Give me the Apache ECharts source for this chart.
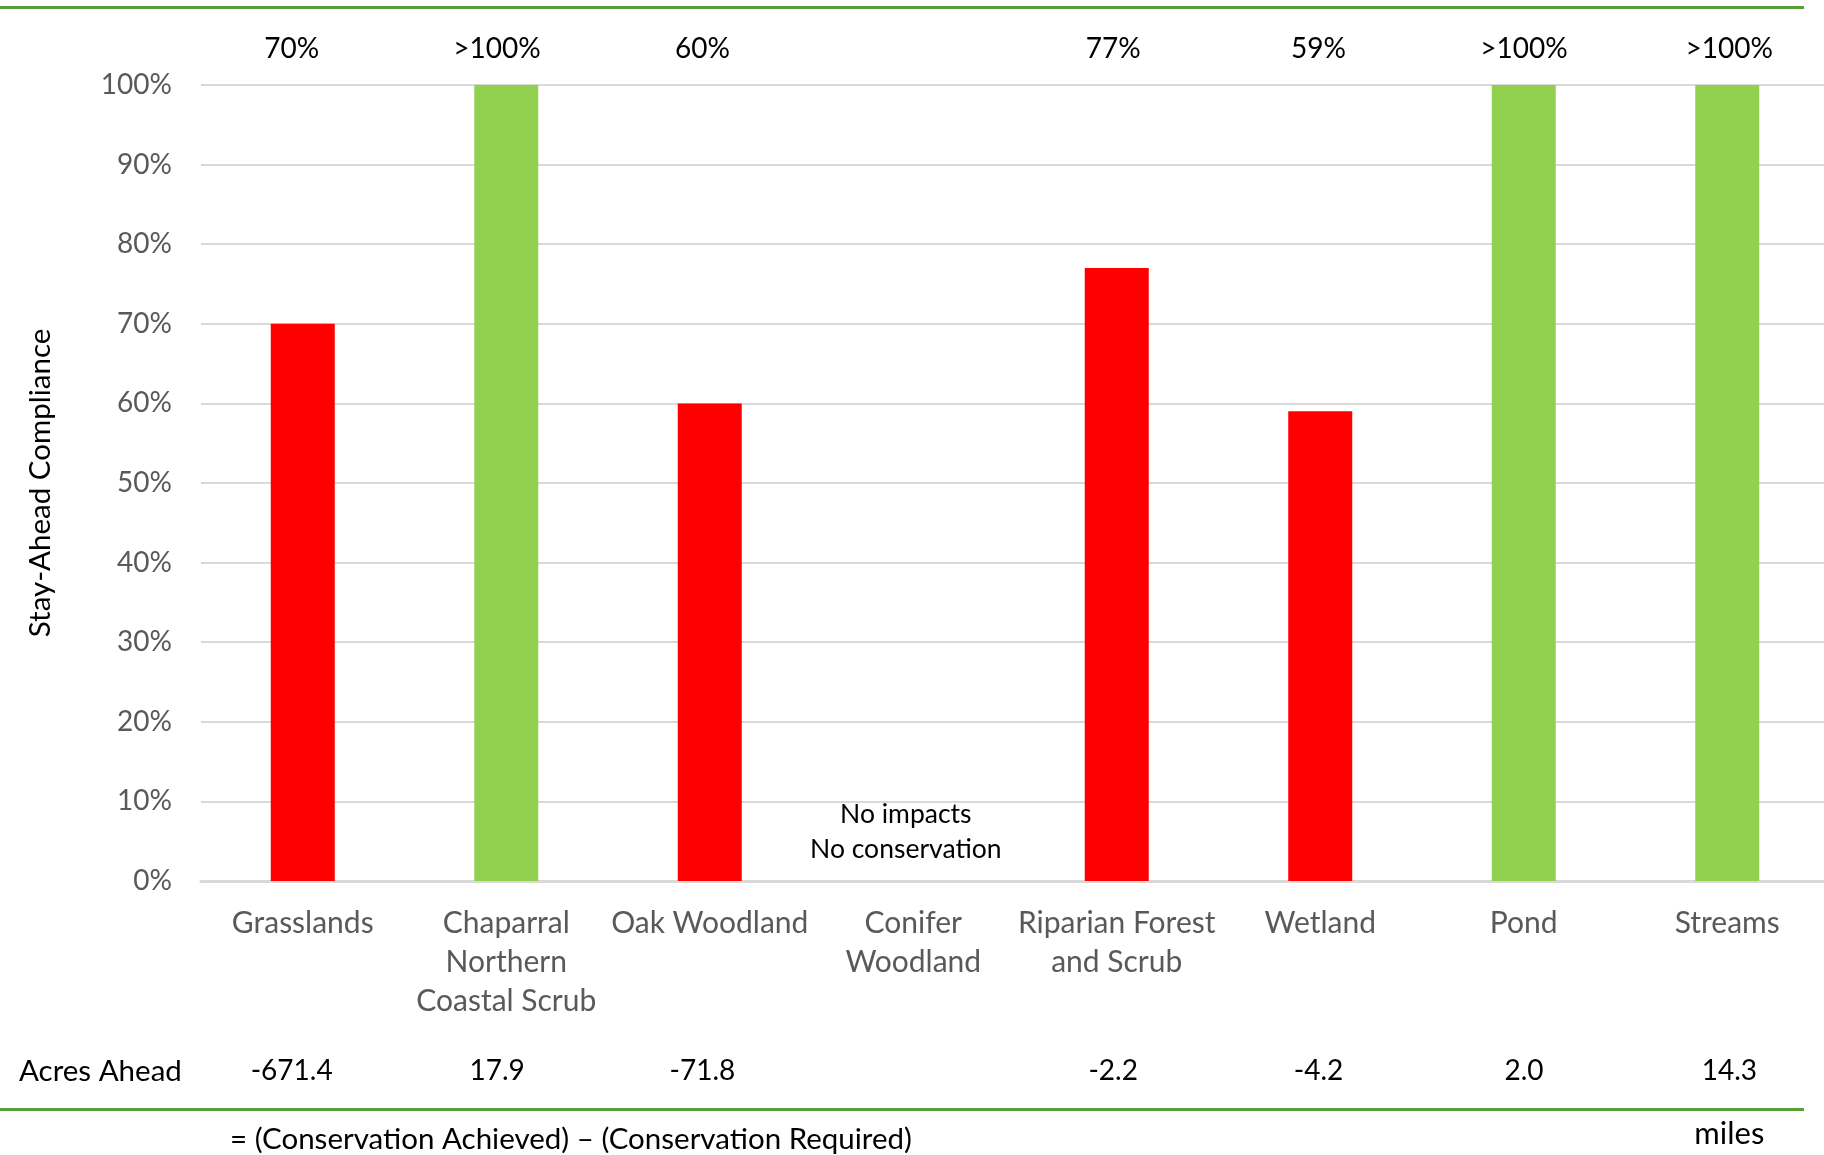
<!DOCTYPE html>
<html>
<head>
<meta charset="utf-8">
<title>Stay-Ahead Compliance</title>
<script src="https://cdn.jsdelivr.net/npm/echarts@6/dist/echarts.min.js"></script>
<style>
  html, body { margin: 0; padding: 0; background: #ffffff; overflow: hidden; }
  /* the plot area runs slightly past the right edge of the page */
  #chart { width: 1840px; height: 1155px; }
</style>
</head>
<body>
<div id="chart"></div>
<script>
// Habitat types
const categories = [
  'Grasslands',
  'Chaparral\nNorthern\nCoastal Scrub',
  'Oak Woodland',
  'Conifer\nWoodland',
  'Riparian Forest\nand Scrub',
  'Wetland',
  'Pond',
  'Streams'
];
// Stay-ahead compliance (%), capped at 100 on the axis; null = no impacts
const compliance = [70, 100, 60, null, 77, 59, 100, 100];
// true where compliance is above 100%
const exceedsTarget = [false, true, false, false, false, false, true, true];
// Acres ahead (miles for Streams)
const acresAhead = [-671.4, 17.9, -71.8, null, -2.2, -4.2, 2.0, 14.3];
// Y axis ticks (%)
const yTicks = { min: 0, max: 100, interval: 10 };

const FONT = 'Lato';
const RED = '#ff0000';
const GREEN = '#92d050';
const RULE = '#56a03a';

const pctText = compliance.map((v, i) =>
  v == null ? '' : (exceedsTarget[i] ? '>100%' : v + '%'));
const acresText = acresAhead.map(v => v == null ? '' : v.toFixed(1));

const chart = echarts.init(document.getElementById('chart'), null, { renderer: 'canvas' });

const option = {
  backgroundColor: '#ffffff',
  animation: false,
  grid: [
    // plot area
    { left: 201, top: 85, width: 1628, height: 796, containLabel: false },
    // table columns (percent row on top, acres row below)
    { left: 189, top: 85, width: 1643, height: 796, containLabel: false }
  ],
  xAxis: [
    {
      type: 'category', gridIndex: 0, data: categories, position: 'bottom',
      axisLine: { show: true, lineStyle: { color: '#d9d9d9', width: 3 } },
      axisTick: { show: false },
      axisLabel: {
        interval: 0, margin: 23, color: '#595959',
        fontFamily: FONT, fontSize: 30, lineHeight: 39
      }
    },
    {
      // compliance labels above the plot
      type: 'category', gridIndex: 1, data: categories, position: 'top',
      axisLine: { show: false }, axisTick: { show: false },
      axisLabel: {
        interval: 0, margin: 21, color: '#000000',
        fontFamily: FONT, fontSize: 28, lineHeight: 30,
        formatter: (v, i) => pctText[i]
      }
    },
    {
      // acres-ahead row under the category names
      type: 'category', gridIndex: 1, data: categories, position: 'bottom', offset: 0,
      axisLine: { show: false }, axisTick: { show: false },
      axisLabel: {
        interval: 0, margin: 174, color: '#000000',
        fontFamily: FONT, fontSize: 28, lineHeight: 32,
        formatter: (v, i) => acresText[i]
      }
    }
  ],
  yAxis: [
    {
      type: 'value', gridIndex: 0,
      min: yTicks.min, max: yTicks.max, interval: yTicks.interval,
      name: 'Stay-Ahead Compliance',
      nameLocation: 'middle', nameRotate: 90, nameGap: 146,
      nameTextStyle: { color: '#000000', fontFamily: FONT, fontSize: 29.5 },
      axisLine: { show: false }, axisTick: { show: false },
      axisLabel: {
        margin: 29, color: '#595959', fontFamily: FONT, fontSize: 28,
        formatter: '{value}%'
      },
      splitLine: { lineStyle: { color: '#d9d9d9', width: 2 } }
    },
    {
      type: 'value', gridIndex: 1, min: 0, max: 100, show: false,
      splitLine: { show: false }
    }
  ],
  series: [
    {
      type: 'bar', xAxisIndex: 0, yAxisIndex: 0,
      barWidth: 64,
      data: compliance.map((v, i) => ({
        value: v,
        itemStyle: { color: exceedsTarget[i] ? GREEN : RED }
      }))
    }
  ]
};

chart.setOption(option);

// Pixel helpers for the free-standing text
const colX = i => chart.convertToPixel({ xAxisIndex: 2 }, categories[i]);
const zeroY = chart.convertToPixel({ yAxisIndex: 0 }, 0);
const conifer = compliance.findIndex(v => v == null);

chart.setOption({
  graphic: [
    // horizontal rules
    { type: 'rect', left: 0, top: 6, shape: { width: 1804, height: 3 },
      style: { fill: RULE }, silent: true },
    { type: 'rect', left: 0, top: 1108, shape: { width: 1804, height: 3 },
      style: { fill: RULE }, silent: true },
    // row title
    { type: 'text', x: 19, y: 1071,
      style: { text: 'Acres Ahead', fill: '#000000', font: '29.5px ' + FONT,
               textAlign: 'left', textVerticalAlign: 'middle' } },
    // no-data annotation
    { type: 'text', x: colX(conifer) - 2, y: zeroY - 67,
      style: { text: 'No impacts', fill: '#000000', font: '26.5px ' + FONT,
               textAlign: 'center', textVerticalAlign: 'middle' } },
    { type: 'text', x: colX(conifer) - 2, y: zeroY - 32,
      style: { text: 'No conservation', fill: '#000000', font: '26.5px ' + FONT,
               textAlign: 'center', textVerticalAlign: 'middle' } },
    // footnote
    { type: 'text', x: 571, y: 1139,
      style: { text: '= (Conservation Achieved) \u2013 (Conservation Required)',
               fill: '#000000', font: '29.5px ' + FONT,
               textAlign: 'center', textVerticalAlign: 'middle' } },
    { type: 'text', x: colX(categories.length - 1), y: 1134,
      style: { text: 'miles', fill: '#000000', font: '31px ' + FONT,
               textAlign: 'center', textVerticalAlign: 'middle' } }
  ]
});
</script>
</body>
</html>
